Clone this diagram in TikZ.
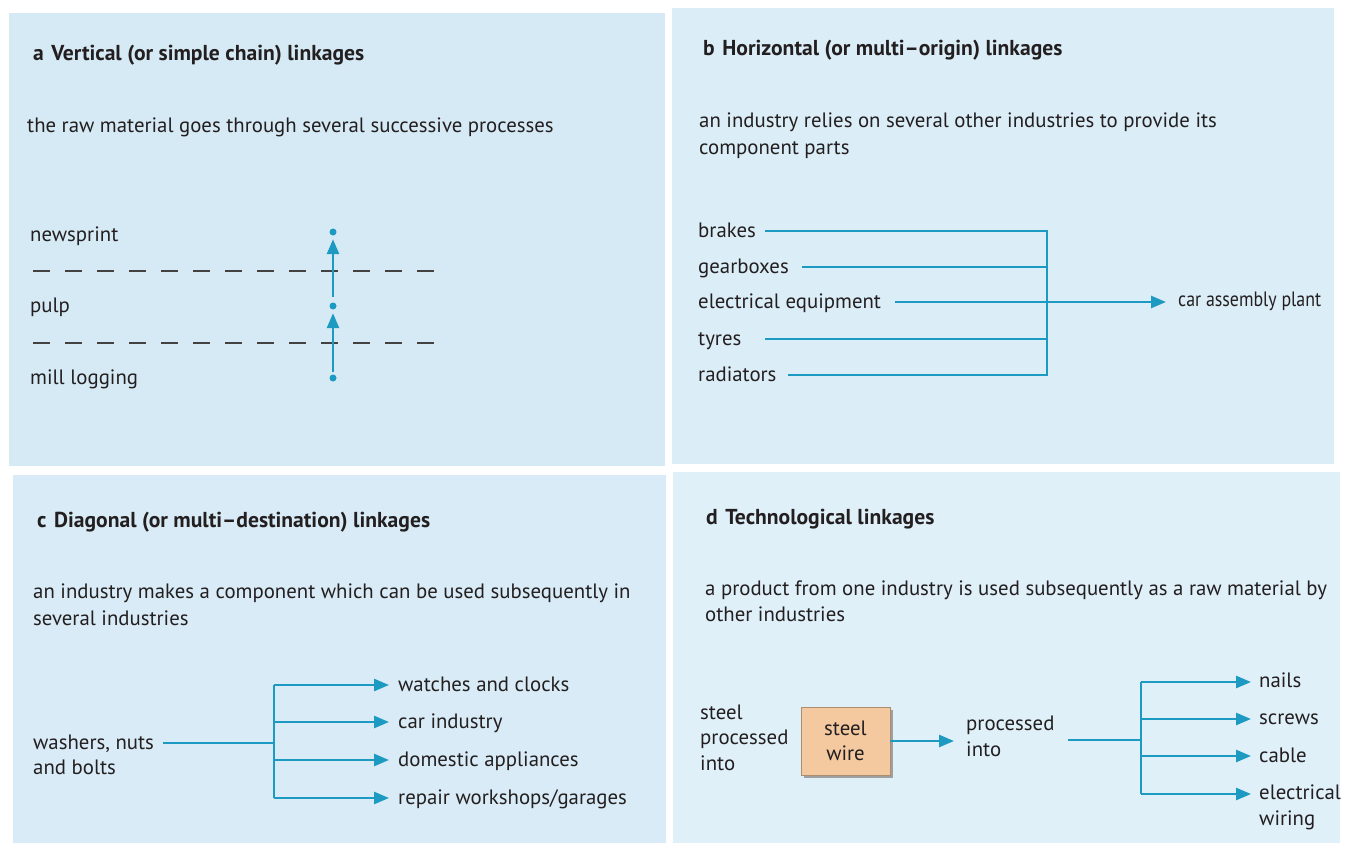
\documentclass[tikz,border=0pt]{standalone}
\usepackage{fontspec}
\setmainfont{PT Sans}
\usetikzlibrary{arrows.meta}

\definecolor{paneA}{RGB}{214,234,245}
\definecolor{paneB}{RGB}{219,237,247}
\definecolor{paneC}{RGB}{216,235,246}
\definecolor{paneD}{RGB}{223,240,249}
\definecolor{linkblue}{RGB}{28,154,194}
\definecolor{ink}{RGB}{35,31,32}
\definecolor{peach}{RGB}{245,201,160}

\newcommand{\bodyfont}{\fontsize{20.8}{27}\selectfont}
\newcommand{\titlefont}{\bfseries\fontsize{21.6}{27}\selectfont}

\begin{document}
\begin{tikzpicture}[x=1pt,y=-1pt,
  link/.style={draw=linkblue, line width=2.6pt},
  arr/.style={link, -{Triangle[length=15pt,width=12pt]}},
  % base west: multi-line texts are placed by the baseline of their last line
  txt/.style={inner sep=0pt, anchor=base west, text=ink, font=\bodyfont, align=left},
  ttl/.style={txt, font=\titlefont},
  dot/.style={circle, fill=linkblue, minimum size=7pt, inner sep=0pt},
  divider/.style={draw=ink!85, line width=1.1pt, dash pattern=on 17pt off 15pt},
  wirebox/.style={fill=peach, draw=peach!70!black, line width=0.6pt, minimum width=89pt, minimum height=68pt, inner sep=0pt, align=center, text=ink, font=\fontsize{20.8}{25}\selectfont}
]
\useasboundingbox (0,0) rectangle (1347,843);

% ---- panel backgrounds ----
\fill[paneA] (9,13)   rectangle (665,466);
\fill[paneB] (672,8)  rectangle (1334,464);
\fill[paneC] (13,475) rectangle (666,843);
\fill[paneD] (673,472) rectangle (1340,843);

% ================= a: vertical linkages =================
\node[ttl] (aT) at (33,60) {a\hspace{0.35em}Vertical (or simple chain) linkages};
\node[txt] (aB) at (27,132) {the raw material goes through several successive processes};
\node[txt] (aNews) at (30,241) {newsprint};
\node[txt] (aPulp) at (30,312) {pulp};
\node[txt] (aMill) at (30,384) {mill logging};

\coordinate (aDash1L) at (33,271);  \coordinate (aDash1R) at (436,271);
\coordinate (aDash2L) at (33,343);  \coordinate (aDash2R) at (436,343);
\draw[divider] (aDash1L) -- (aDash1R);
\draw[divider] (aDash2L) -- (aDash2R);

\node[dot] (aD1) at (333,232) {};
\node[dot] (aD2) at (333,306) {};
\node[dot] (aD3) at (333,378) {};
\draw[arr, shorten <=2.5pt, shorten >=3.5pt] (aD3) -- (aD2);
\draw[arr, shorten <=5.5pt, shorten >=3.5pt] (aD2) -- (aD1);

% ================= b: horizontal linkages =================
\node[ttl] (bT) at (703,56) {b\hspace{0.35em}Horizontal (or multi–origin) linkages};
\node[txt] (bB) at (699,154) {an industry relies on several other industries to provide its\\component parts};
\node[txt] (bBrakes) at (698,237) {brakes};
\node[txt] (bGear)   at (698,273) {gearboxes};
\node[txt] (bElec)   at (698,308) {electrical equipment};
\node[txt] (bTyres)  at (698,345) {tyres};
\node[txt] (bRad)    at (698,381) {radiators};
\node[txt] (bCar)    at (1178,306) {\scalebox{0.86}[1]{car assembly plant}};

\coordinate (bS1) at (765,231);  \coordinate (bJ1) at (1047,231);
\coordinate (bS2) at (802,267);  \coordinate (bJ2) at (1047,267);
\coordinate (bS3) at (895,302);  \coordinate (bE3) at (1166,302);
\coordinate (bS4) at (765,339);  \coordinate (bJ4) at (1047,339);
\coordinate (bS5) at (788,375);  \coordinate (bJ5) at (1047,375);

\draw[link] (bS1) -- (bJ1);
\draw[link] (bS2) -- (bJ2);
\draw[link] (bS4) -- (bJ4);
\draw[link] (bS5) -- (bJ5);
\draw[link, line cap=rect] (bJ1) -- (bJ5);
\draw[arr] (bS3) -- (bE3);

% ================= c: diagonal linkages =================
\node[ttl] (cT) at (37,527) {c\hspace{0.35em}Diagonal (or multi–destination) linkages};
\node[txt] (cB) at (33,625) {an industry makes a component which can be used subsequently in\\several industries};
\node[txt, font=\fontsize{20.8}{25}\selectfont] (cSrc) at (33,774) {washers, nuts\\and bolts};

\node[txt] (cW) at (398,691) {watches and clocks};
\node[txt] (cC) at (398,728) {car industry};
\node[txt] (cD) at (398,766) {domestic appliances};
\node[txt] (cR) at (398,804) {repair workshops/garages};

\coordinate (cS)  at (163,743);
\coordinate (cJ0) at (274,743);
\coordinate (cJ1) at (274,685);  \coordinate (cE1) at (389,685);
\coordinate (cJ2) at (274,722);  \coordinate (cE2) at (389,722);
\coordinate (cJ3) at (274,760);  \coordinate (cE3) at (389,760);
\coordinate (cJ4) at (274,798);  \coordinate (cE4) at (389,798);

\draw[link] (cS) -- (cJ0);
\draw[link] (cJ1) -- (cJ4);
\draw[arr] (cJ1) -- (cE1);
\draw[arr] (cJ2) -- (cE2);
\draw[arr] (cJ3) -- (cE3);
\draw[arr] (cJ4) -- (cE4);

% ================= d: technological linkages =================
\node[ttl] (dT) at (706,524) {d\hspace{0.35em}Technological linkages};
\node[txt, font=\fontsize{20.8}{25.5}\selectfont] (dB) at (705,621) {a product from one industry is used subsequently as a raw material by\\other industries};
\node[txt, font=\fontsize{20.8}{25.5}\selectfont] (dSteel) at (700,770) {steel\\processed\\into};

\fill[gray!75] (804,710) rectangle (893,778);
\node[wirebox] (dWire) at (845.5,741) {steel\\wire};

\node[txt, font=\fontsize{20.8}{26}\selectfont] (dProc) at (966,756) {processed\\into};

\node[txt] (dNails)  at (1259,687) {nails};
\node[txt] (dScrews) at (1259,724) {screws};
\node[txt] (dCable)  at (1259,762) {cable};
\node[txt, font=\fontsize{20.8}{26}\selectfont] (dWiring) at (1259,825) {electrical\\wiring};

\coordinate (dA1) at (954,741);
\coordinate (dS)  at (1068,740);
\coordinate (dJ0) at (1141,740);
\coordinate (dJ1) at (1141,682);  \coordinate (dE1) at (1251,682);
\coordinate (dJ2) at (1141,719);  \coordinate (dE2) at (1251,719);
\coordinate (dJ3) at (1141,756);  \coordinate (dE3) at (1251,756);
\coordinate (dJ4) at (1141,794);  \coordinate (dE4) at (1251,794);

\draw[arr] (dWire.east |- dA1) -- (dA1);
\draw[link] (dS) -- (dJ0);
\draw[link] (dJ1) -- (dJ4);
\draw[arr] (dJ1) -- (dE1);
\draw[arr] (dJ2) -- (dE2);
\draw[arr] (dJ3) -- (dE3);
\draw[arr] (dJ4) -- (dE4);
\end{tikzpicture}
\end{document}
